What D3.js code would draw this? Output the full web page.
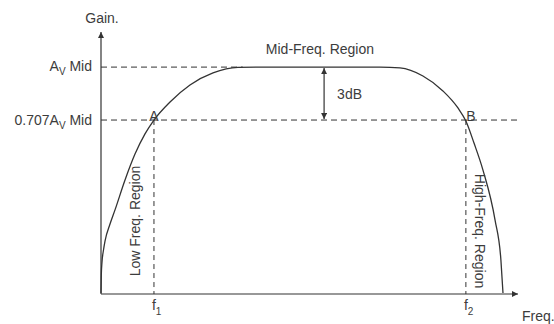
<!DOCTYPE html>
<html>
<head>
<meta charset="utf-8">
<script src="https://cdn.jsdelivr.net/npm/d3@7/dist/d3.min.js"></script>
<style>
  html, body { margin: 0; padding: 0; background: #fff; }
  svg { display: block; font-family: "Liberation Sans", Arial, sans-serif; }
</style>
</head>
<body>
<svg id="chart"></svg>
<script>
// frequency response curve, schematic units (0-100 on both axes)
const freqPts = [0, 0.07, 0.24, 0.6, 0.96, 2.16, 3.36, 5.76, 8.15, 10.55, 12.7, 16.55, 21.34, 26.86, 32.85, 38.1,
                 66.9, 71.7, 77.2, 82.0, 85.6, 87.5, 89.45, 91.6, 94.5, 95.9, 96.4];
const gainPts = [0.4, 7.3, 12.2, 16.8, 20.2, 26.7, 32.1, 43.5, 53.4, 61.1, 66.4, 73.3, 79.8, 84.4, 86.5, 86.6,
                 86.6, 86.3, 83.2, 77.5, 71.0, 66.0, 57.6, 47.3, 28.2, 13.0, 0.4];

// gain levels and their labels
const levelValues = [86.6, 66.4];
const levelPrefix = ["", "0.707"];

// cut-off frequencies (f1, f2) and the half-power points A, B
const cutoffFreqs = [12.7, 87.5];
const cutoffSubs = ["1", "2"];
const pointNames = ["A", "B"];

const W = 554, H = 324;
const ink = "#333";
const txt = "#3c3c3c";

const svg = d3.select("#chart").attr("width", W).attr("height", H);

const x = d3.scaleLinear().domain([0, 100]).range([101, 518]);
const y = d3.scaleLinear().domain([0, 100]).range([294, 32]);

const defs = svg.append("defs");
defs.append("marker")
    .attr("id", "head")
    .attr("viewBox", "0 0 10 10")
    .attr("refX", 10).attr("refY", 5)
    .attr("markerWidth", 9).attr("markerHeight", 6)
    .attr("markerUnits", "userSpaceOnUse")
    .attr("orient", "auto-start-reverse")
    .append("path")
    .attr("d", "M0,0 L10,5 L0,10 Z")
    .attr("fill", ink);

// dashed reference lines for the two gain levels
svg.append("line")
    .attr("x1", x(0)).attr("x2", x(34))
    .attr("y1", y(levelValues[0])).attr("y2", y(levelValues[0]))
    .attr("stroke", ink).attr("stroke-width", 1)
    .attr("stroke-dasharray", "6,4");

svg.append("line")
    .attr("x1", x(0)).attr("x2", x(100.5))
    .attr("y1", y(levelValues[1])).attr("y2", y(levelValues[1]))
    .attr("stroke", ink).attr("stroke-width", 1)
    .attr("stroke-dasharray", "6,4");

// vertical dashed lines at f1, f2
svg.selectAll(".cut")
    .data(cutoffFreqs)
    .enter()
    .append("line")
    .attr("class", "cut")
    .attr("x1", d => x(d)).attr("x2", d => x(d))
    .attr("y1", y(levelValues[1])).attr("y2", y(0))
    .attr("stroke", ink).attr("stroke-width", 1)
    .attr("stroke-dasharray", "5,4");

// axes with arrow heads
svg.append("line")
    .attr("x1", x(0)).attr("x2", x(0))
    .attr("y1", y(0)).attr("y2", y(100))
    .attr("stroke", ink).attr("stroke-width", 1.2)
    .attr("marker-end", "url(#head)");

svg.append("line")
    .attr("x1", x(0)).attr("x2", x(100))
    .attr("y1", y(0)).attr("y2", y(0))
    .attr("stroke", ink).attr("stroke-width", 1.2)
    .attr("marker-end", "url(#head)");

// response curve
const line = d3.line()
    .x(d => x(d[0]))
    .y(d => y(d[1]))
    .curve(d3.curveMonotoneX);

svg.append("path")
    .datum(freqPts.map((f, i) => [f, gainPts[i]]))
    .attr("d", line)
    .attr("fill", "none")
    .attr("stroke", ink)
    .attr("stroke-width", 1.3);

// 3dB double arrow
const arrowX = x(53.5);
svg.append("line")
    .attr("x1", arrowX).attr("x2", arrowX)
    .attr("y1", y(levelValues[0]) + 1).attr("y2", y(levelValues[1]) - 1)
    .attr("stroke", ink).attr("stroke-width", 1.2)
    .attr("marker-start", "url(#head)")
    .attr("marker-end", "url(#head)");

svg.append("text")
    .attr("x", arrowX + 13)
    .attr("y", (y(levelValues[0]) + y(levelValues[1])) / 2 + 5)
    .attr("font-size", 14).attr("fill", txt)
    .text("3dB");

// y level labels
levelValues.forEach((v, i) => {
    const t = svg.append("text")
        .attr("x", 92)
        .attr("y", y(v) + 4 + (i === 1 ? 1 : 0))
        .attr("text-anchor", "end")
        .attr("font-size", 14).attr("fill", txt);
    t.append("tspan").text(levelPrefix[i] + "A");
    t.append("tspan").attr("font-size", 10).attr("dy", 4).text("V");
    t.append("tspan").attr("dy", -4).text(" Mid");
});

// f1, f2 labels
cutoffFreqs.forEach((f, i) => {
    const t = svg.append("text")
        .attr("x", x(f) - 2)
        .attr("y", 310)
        .attr("font-size", 14).attr("fill", txt);
    t.append("tspan").text("f");
    t.append("tspan").attr("font-size", 10).attr("dy", 5).text(cutoffSubs[i]);
});

// A, B point labels
svg.selectAll(".pt")
    .data(cutoffFreqs)
    .enter()
    .append("text")
    .attr("class", "pt")
    .attr("x", (d, i) => i === 0 ? x(d) : x(d) + 5)
    .attr("y", y(levelValues[1]) + 1)
    .attr("text-anchor", "middle")
    .attr("font-size", 14).attr("fill", txt)
    .text((d, i) => pointNames[i]);

// axis titles
svg.append("text")
    .attr("x", x(0) + 1).attr("y", 23)
    .attr("text-anchor", "middle")
    .attr("font-size", 14).attr("fill", txt)
    .text("Gain.");

svg.append("text")
    .attr("x", 522).attr("y", 321)
    .attr("font-size", 14).attr("fill", txt)
    .text("Freq.");

// region labels
svg.append("text")
    .attr("x", x(52.5)).attr("y", 54)
    .attr("text-anchor", "middle")
    .attr("font-size", 14).attr("fill", txt)
    .text("Mid-Freq. Region");

svg.append("text")
    .attr("transform", `translate(140,221) rotate(-90)`)
    .attr("text-anchor", "middle")
    .attr("font-size", 14).attr("fill", txt)
    .text("Low Freq. Region");

svg.append("text")
    .attr("transform", `translate(475,231) rotate(90)`)
    .attr("text-anchor", "middle")
    .attr("font-size", 14).attr("fill", txt)
    .text("High-Freq. Region");
</script>
</body>
</html>
